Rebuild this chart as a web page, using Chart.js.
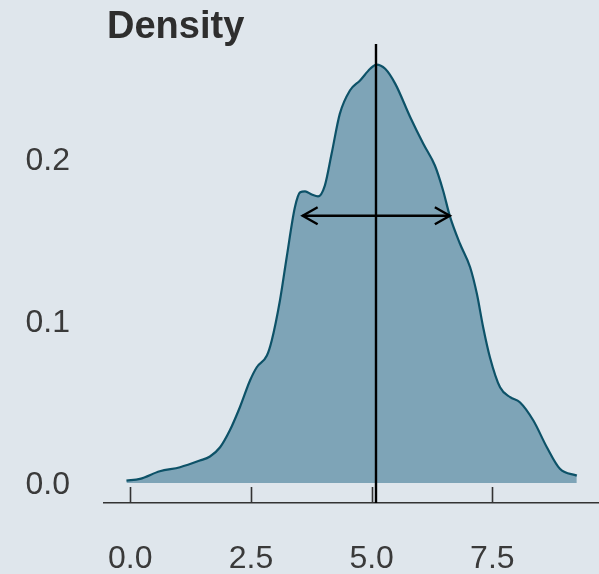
<!DOCTYPE html>
<html>
<head>
<meta charset="utf-8">
<script src="https://cdn.jsdelivr.net/npm/chart.js@4.4.1/dist/chart.umd.min.js"></script>
<style>
  html, body { margin: 0; padding: 0; background: #dfe6ec; }
  #wrap { position: relative; width: 599px; height: 574px; overflow: hidden; }
  #title {
    position: absolute; left: 107px; top: 6px;
    font: bold 38px/38px "Liberation Sans", Arial, sans-serif;
    color: #2e2e2e;
  }
</style>
</head>
<body>
<div id="wrap">
  <canvas id="density-chart" width="599" height="574"></canvas>
  <div id="title">Density</div>
</div>
<script>
// density curve
const densityX = [-0.08, 0.20, 0.61, 1.03, 1.44, 1.65, 1.86, 2.06, 2.27, 2.48, 2.62, 2.83, 2.93,
                  3.10, 3.24, 3.41, 3.52, 3.62, 3.76, 3.89, 4.03, 4.17, 4.34, 4.55, 4.76, 4.97,
                  5.10, 5.28, 5.49, 5.80, 6.07, 6.31, 6.48, 6.62, 6.83, 7.04, 7.18, 7.31, 7.45,
                  7.66, 7.87, 8.07, 8.35, 8.63, 8.90, 9.25];
const densityY = [0.0015, 0.0026, 0.0073, 0.0098, 0.0139, 0.0164, 0.0221, 0.0324, 0.0468, 0.0633, 0.0715, 0.0787, 0.0880,
                  0.1127, 0.1394, 0.1702, 0.1795, 0.1801, 0.1781, 0.1769, 0.1836, 0.2032, 0.2279, 0.2423, 0.2485, 0.2557,
                  0.2583, 0.2557, 0.2464, 0.2258, 0.2094, 0.1960, 0.1806, 0.1648, 0.1477, 0.1332, 0.1168, 0.0962, 0.0777,
                  0.0591, 0.0530, 0.0499, 0.0386, 0.0221, 0.0088, 0.0046];

// mean line and +/- sd arrow
const meanValue = 5.09;
const sdRange = [3.57, 6.62];
const arrowLevel = 0.165;

const xTicks = [0, 2.5, 5, 7.5];
const yTicks = [0, 0.1, 0.2];
const xRange = [-0.545, 9.71];
const yRange = [-0.0123, 0.271];

const textColor = '#3a3a3a';
const labelFont = { family: '"Liberation Sans", Arial, sans-serif', size: 32 };

// ticks point up from the axis line, arrow heads are open chevrons
const axisExtras = {
    id: 'axisExtras',
    afterDatasetsDraw(chart) {
        const { ctx, chartArea } = chart;
        const x = chart.scales.x;
        const y = chart.scales.y;
        ctx.save();
        ctx.strokeStyle = '#333333';
        ctx.lineWidth = 1.6;
        xTicks.forEach(v => {
            const px = Math.round(x.getPixelForValue(v)) + 0.5;
            ctx.beginPath();
            ctx.moveTo(px, chartArea.bottom);
            ctx.lineTo(px, chartArea.bottom - 16);
            ctx.stroke();
        });

        const py = y.getPixelForValue(arrowLevel);
        const left = x.getPixelForValue(sdRange[0]);
        const right = x.getPixelForValue(sdRange[1]);
        ctx.strokeStyle = '#000000';
        ctx.lineWidth = 2.4;
        ctx.beginPath();
        ctx.moveTo(left + 15, py - 8.5);
        ctx.lineTo(left, py);
        ctx.lineTo(left + 15, py + 8.5);
        ctx.moveTo(right - 15, py - 8.5);
        ctx.lineTo(right, py);
        ctx.lineTo(right - 15, py + 8.5);
        ctx.stroke();
        ctx.restore();
    }
};

function initializeChart() {
    const ctx = document.getElementById('density-chart').getContext('2d');
    return new Chart(ctx, {
        type: 'line',
        data: {
            datasets: [
                {
                    label: 'density',
                    data: densityX.map((v, i) => ({ x: v, y: densityY[i] })),
                    borderColor: '#0d5268',
                    backgroundColor: '#7ea4b7',
                    borderWidth: 2.2,
                    fill: 'origin',
                    cubicInterpolationMode: 'monotone',
                    pointRadius: 0,
                    order: 3,
                },
                {
                    label: 'mean',
                    data: [{ x: meanValue, y: yRange[0] }, { x: meanValue, y: yRange[1] }],
                    borderColor: '#000000',
                    borderWidth: 2.4,
                    pointRadius: 0,
                    fill: false,
                    order: 1,
                },
                {
                    label: 'sd',
                    data: [{ x: sdRange[0], y: arrowLevel }, { x: sdRange[1], y: arrowLevel }],
                    borderColor: '#000000',
                    borderWidth: 2.4,
                    pointRadius: 0,
                    fill: false,
                    order: 2,
                },
            ],
        },
        options: {
            responsive: false,
            animation: false,
            devicePixelRatio: 1,
            layout: { padding: { top: 44, right: 0, bottom: 0, left: 0 } },
            plugins: {
                legend: { display: false },
                tooltip: { enabled: false },
            },
            scales: {
                x: {
                    type: 'linear',
                    min: xRange[0],
                    max: xRange[1],
                    afterBuildTicks: s => { s.ticks = xTicks.map(v => ({ value: v })); },
                    afterFit: s => { s.height = 71; s.paddingLeft = 0; s.paddingRight = 0; },
                    ticks: {
                        color: textColor,
                        font: labelFont,
                        padding: 37,
                        maxRotation: 0,
                        callback: v => v.toFixed(1),
                    },
                    grid: { drawOnChartArea: false, drawTicks: false, color: 'rgba(0,0,0,0)' },
                    border: { display: true, color: '#333333', width: 1.6 },
                },
                y: {
                    type: 'linear',
                    min: yRange[0],
                    max: yRange[1],
                    afterBuildTicks: s => { s.ticks = yTicks.map(v => ({ value: v })); },
                    afterFit: s => { s.width = 104; s.paddingTop = 0; s.paddingBottom = 0; },
                    ticks: {
                        color: textColor,
                        font: labelFont,
                        padding: 34,
                        labelOffset: 2.5,
                        callback: v => v.toFixed(1),
                    },
                    grid: { display: false, drawTicks: false },
                    border: { display: false },
                },
            },
        },
        plugins: [axisExtras],
    });
}

window.addEventListener('load', () => {
    initializeChart();
});
</script>
</body>
</html>
